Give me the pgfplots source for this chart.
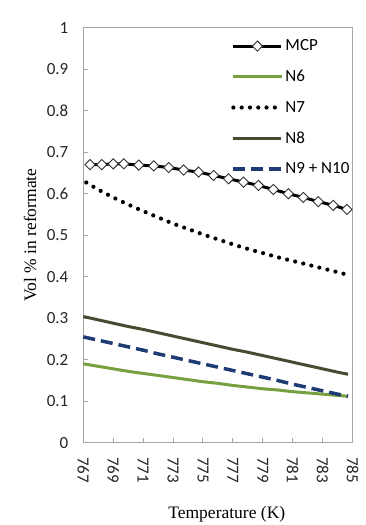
\documentclass[border=0pt]{standalone}
\usepackage{pgfplots}
\pgfplotsset{compat=1.18}
\usepackage{fontspec}
\setmainfont{Carlito}
\newfontfamily\serifont{Liberation Serif}
\definecolor{axgray}{HTML}{A6A6A6}
\definecolor{ngreen}{HTML}{77A040}
\definecolor{nolive}{HTML}{4A4A32}
\definecolor{nnavy}{HTML}{1F3B73}
\begin{document}
\begin{tikzpicture}
\begin{axis}[
  scale only axis, width=269.2bp, height=415bp,
  xmin=767, xmax=785, ymin=0, ymax=1,
  xtick={767,769,771,773,775,777,779,781,783,785},
  ytick={0,0.1,0.2,0.3,0.4,0.5,0.6,0.7,0.8,0.9,1},
  yticklabels={0,0.1,0.2,0.3,0.4,0.5,0.6,0.7,0.8,0.9,1},
  xtick pos=bottom, ytick pos=left,
  tick align=inside, major tick length=4.5bp,
  axis line style={draw=axgray, line width=0.9bp},
  tick style={draw=axgray, line width=0.9bp},
  /pgf/number format/assume math mode=true,
  ticklabel style={font=\fontsize{17bp}{20bp}\selectfont, text=black!85},
  x tick label style={/pgf/number format/1000 sep={}},
  xticklabel style={yshift=-11bp, rotate=-90, anchor=west},
  yticklabel style={xshift=-11.5bp},
  every axis y label/.style={at={(rel axis cs:0,0.5)}, xshift=-53.3bp, rotate=90, anchor=center, font=\serifont\fontsize{17.5bp}{20bp}\selectfont},
  every axis x label/.style={at={(rel axis cs:0.533,0)}, yshift=-71.5bp, anchor=center, font=\serifont\fontsize{17.5bp}{20bp}\selectfont},
  ylabel={Vol \% in reformate},
  xlabel={Temperature (K)},
  legend style={draw=none, fill=none, at={(rel axis cs:0.549,0.976)}, anchor=north west,
    font=\fontsize{17bp}{20bp}\selectfont, inner sep=0pt, row sep=14bp},
  legend cell align=left,
  legend image code/.code={\draw[mark repeat=2, mark phase=2, #1] plot coordinates {(0bp,0bp) (24bp,0bp) (48bp,0bp)};},
  clip=false,
]
% MCP
\addplot[black, line width=3bp, mark=square*, mark size=3.6bp,
  mark options={rotate=45, fill=white, draw=black!80, line width=0.9bp, solid}]
  coordinates {
  (767.45,0.670) (768.23,0.670) (769.00,0.672) (769.71,0.672) (770.71,0.669)
  (771.71,0.667) (772.71,0.663) (773.71,0.657) (774.71,0.652) (775.71,0.644)
  (776.71,0.636) (777.71,0.628) (778.71,0.620) (779.71,0.610) (780.71,0.600)
  (781.71,0.591) (782.71,0.581) (783.71,0.572) (784.63,0.562)};
\addlegendentry{MCP}
% N6
\addplot[ngreen, line width=3bp, smooth] coordinates {
  (767,0.190) (768,0.184) (769,0.178) (770,0.172) (771,0.167) (772,0.162)
  (773,0.157) (774,0.152) (775,0.147) (776,0.143) (777,0.138) (778,0.134)
  (779,0.130) (780,0.127) (781,0.123) (782,0.120) (783,0.117) (784,0.114) (784.7,0.112)};
\addlegendentry{N6}
% N7
\addplot[black, line width=4.2bp, line cap=round, dash pattern=on 0bp off 8.3bp, smooth] coordinates {
  (767.2,0.627) (768,0.610) (769,0.591) (770,0.574) (771,0.558) (772,0.543)
  (773,0.528) (774,0.515) (775,0.502) (776,0.490) (777,0.478) (778,0.467)
  (779,0.457) (780,0.447) (781,0.438) (782,0.429) (783,0.420) (784,0.411) (784.63,0.405)};
\addlegendentry{N7}
% N8
\addplot[nolive, line width=3bp] coordinates {
  (767,0.304) (768,0.296) (769,0.288) (770,0.280) (771,0.273) (772,0.265)
  (773,0.257) (774,0.249) (775,0.241) (776,0.233) (777,0.225) (778,0.218)
  (779,0.210) (780,0.202) (781,0.194) (782,0.186) (783,0.178) (784,0.170) (784.7,0.165)};
\addlegendentry{N8}
% N9 + N10
\addplot[nnavy, line width=3.5bp, dash pattern=on 12bp off 6bp] coordinates {
  (767,0.255) (768,0.247) (769,0.239) (770,0.231) (771,0.223) (772,0.214)
  (773,0.206) (774,0.198) (775,0.190) (776,0.182) (777,0.174) (778,0.166)
  (779,0.158) (780,0.150) (781,0.141) (782,0.133) (783,0.125) (784,0.117) (784.7,0.112)};
\addlegendentry{N9 + N10}
\end{axis}
\pgfresetboundingbox
\path[use as bounding box] (current axis.south west) ++(-83.3bp,-82.3bp) rectangle ++(366bp,525bp);
\end{tikzpicture}
\end{document}
